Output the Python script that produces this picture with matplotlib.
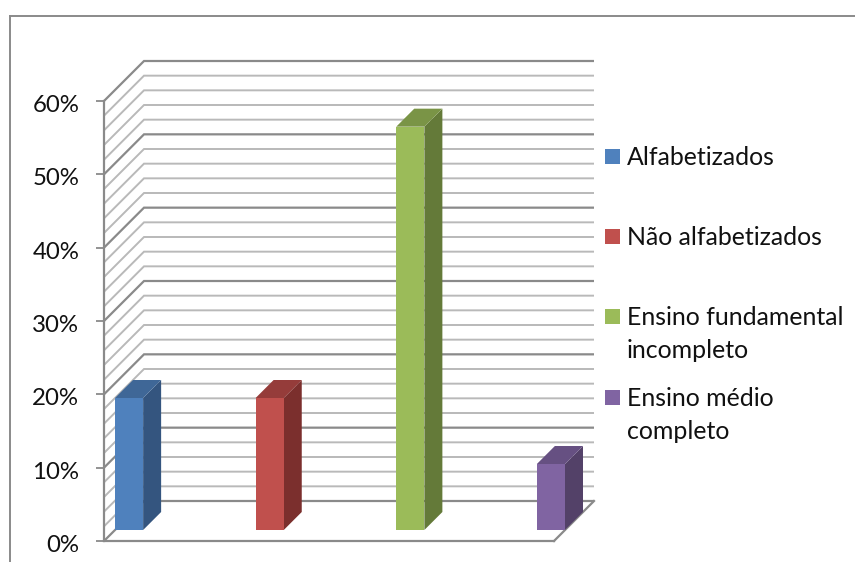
import matplotlib
matplotlib.use("Agg")
import matplotlib.pyplot as plt
from matplotlib.patches import Polygon, Rectangle
from matplotlib.lines import Line2D
from matplotlib.transforms import ScaledTranslation

plt.rcParams['font.family'] = ['Lato', 'DejaVu Sans']

series = ["Alfabetizados", "Não alfabetizados", "Ensino fundamental\nincompleto", "Ensino médio\ncompleto"]
values = [18, 18, 55, 9]
front_colors = ["#4f81bd", "#c0504d", "#9bbb59", "#8064a2"]
side_colors = ["#34557f", "#7b2f2d", "#647a39", "#534168"]
top_colors = ["#3f6797", "#953c3a", "#7a9446", "#665082"]
y_ticks = [0, 10, 20, 30, 40, 50, 60]
y_tick_labels = ["0%", "10%", "20%", "30%", "40%", "50%", "60%"]
minor_step = 2
legend_y = [156, 236, 316, 397]

W, H = 855, 562
fig = plt.figure(figsize=(W / 100, H / 100), dpi=100, facecolor="white")
L, R, T, B = 104, 554, 101, 541
ax = fig.add_axes([L / W, 1 - B / H, (R - L) / W, (B - T) / H])
ax.set_xlim(0, 4)
ax.set_ylim(0, 60)
ax.patch.set_visible(False)

px_x = 4 / (R - L)
px_y = 60 / (B - T)


def proj(x, v, depth=0):
    """Oblique projection: depth in pixels shifts right and up."""
    return x + depth * px_x, v + depth * px_y


DEPTH = 40
MAJOR = "#8a8a8a"
MINOR = "#b9b9b9"

# walls and gridlines
for v in range(0, 61, minor_step):
    major = v % 10 == 0
    col, lw = (MAJOR, 1.6) if major else (MINOR, 1.4)
    p0 = proj(0, v)
    p1 = proj(0, v, DEPTH)
    p2 = proj(4, v, DEPTH)
    ax.plot([p0[0], p1[0], p2[0]], [p0[1], p1[1], p2[1]], color=col, lw=lw,
            solid_capstyle="butt", solid_joinstyle="miter", clip_on=False, zorder=1)

# floor right edge
p0, p1 = proj(4, 0), proj(4, 0, DEPTH)
ax.plot([p0[0], p1[0]], [p0[1], p1[1]], color=MAJOR, lw=1.6, clip_on=False, zorder=1)

# bars
BAR_W = 0.25
D0, D1 = 11, 29
for i, (val, cf, cs, ct) in enumerate(zip(values, front_colors, side_colors, top_colors)):
    c = 0.125 + 1.25 * i
    x0, x1 = c - BAR_W / 2, c + BAR_W / 2
    side = [proj(x1, 0, D0), proj(x1, 0, D1), proj(x1, val, D1), proj(x1, val, D0)]
    top = [proj(x0, val, D0), proj(x1, val, D0), proj(x1, val, D1), proj(x0, val, D1)]
    front = [proj(x0, 0, D0), proj(x1, 0, D0), proj(x1, val, D0), proj(x0, val, D0)]
    ax.add_patch(Polygon(side, closed=True, fc=cs, ec="none", clip_on=False, zorder=3))
    ax.add_patch(Polygon(top, closed=True, fc=ct, ec="none", clip_on=False, zorder=3))
    ax.add_patch(Polygon(front, closed=True, fc=cf, ec="none", clip_on=False, zorder=3))

# axes
for s in ("top", "right"):
    ax.spines[s].set_visible(False)
for s in ("left", "bottom"):
    ax.spines[s].set_color(MAJOR)
    ax.spines[s].set_linewidth(1.6)
ax.set_xticks([])
ax.set_yticks(y_ticks)
ax.set_yticklabels(y_tick_labels, fontsize=17.3, color="#111111")
ax.tick_params(axis="y", length=5.8, width=1.3, color=MAJOR, pad=12)
shift = ScaledTranslation(0, -2.5 / 100, fig.dpi_scale_trans)
for lab in ax.get_yticklabels():
    lab.set_transform(lab.get_transform() + shift)

# outer chart frame (top and left sides only are visible)
for xs, ys in (([9.5, W], [15.5, 15.5]), ([9.5, 9.5], [15.5, H])):
    fig.add_artist(Line2D([x / W for x in xs], [1 - y / H for y in ys],
                          transform=fig.transFigure, color="#8a8a8a", lw=1.4))

# legend
for name, col, y in zip(series, front_colors, legend_y):
    fig.add_artist(Rectangle((605 / W, 1 - (y + 7.5) / H), 15 / W, 15 / H,
                             transform=fig.transFigure, fc=col, ec="none"))
    first_center = 1 - y / H
    fig.text(627 / W, first_center + 10 / H, name, fontsize=17.9, color="#111111",
             va="top", ha="left", linespacing=1.53)

fig.savefig("out.png", dpi=100, facecolor="white")
